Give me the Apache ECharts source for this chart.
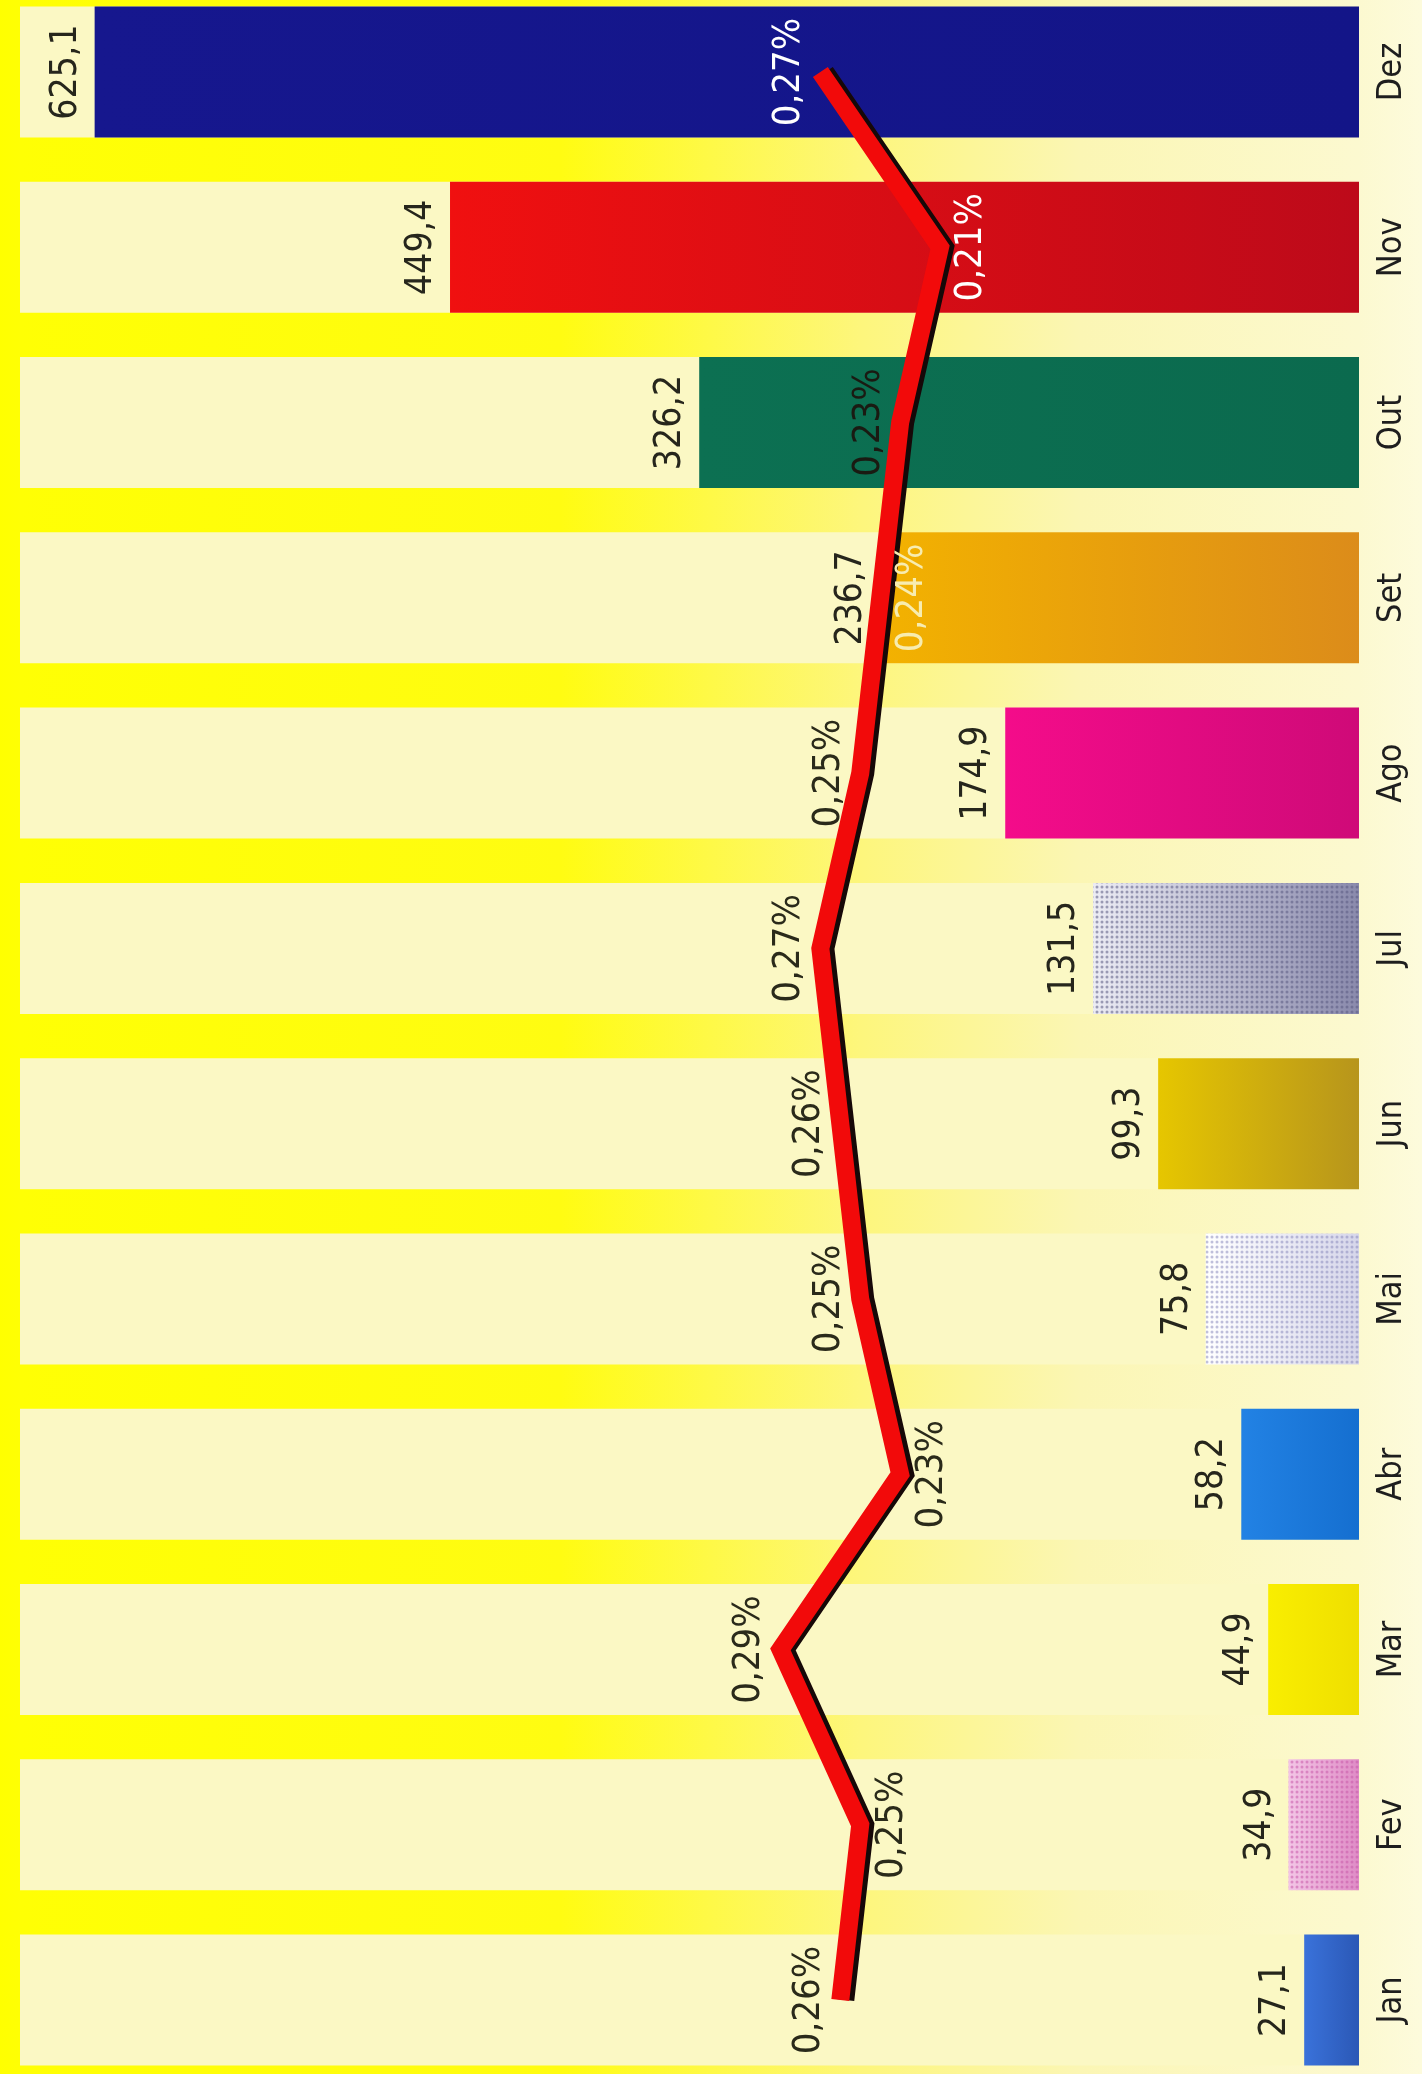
<!DOCTYPE html>
<html>
<head>
<meta charset="utf-8">
<script src="https://cdn.jsdelivr.net/npm/echarts@6/dist/echarts.min.js"></script>
<style>
  html, body { margin: 0; padding: 0; }
  #chart {
    width: 1422px; height: 2074px;
    background: linear-gradient(to right, #ffff00 0px, #ffff04 20px, #fffc12 560px, #fdf67c 860px, #fbf6b4 1080px, #fcf9d0 1359px, #fdfbdc 1422px);
  }
</style>
</head>
<body>
<div id="chart"></div>
<script>
// ---- data ----
const months = ['Jan', 'Fev', 'Mar', 'Abr', 'Mai', 'Jun', 'Jul', 'Ago', 'Set', 'Out', 'Nov', 'Dez'];
const values = [27.1, 34.9, 44.9, 58.2, 75.8, 99.3, 131.5, 174.9, 236.7, 326.2, 449.4, 625.1];
const percents = [0.26, 0.25, 0.29, 0.23, 0.25, 0.26, 0.27, 0.25, 0.24, 0.23, 0.21, 0.27];

// ---- styles (not data) ----
const barGradients = [
  ['#3a72da', '#2b58b6'],   // Jan
  ['#f3c6e6', '#df8cc6'],   // Fev
  ['#f9ee00', '#efdf00'],   // Mar
  ['#2282e4', '#156fd0'],   // Abr
  ['#ffffff', '#d6d6ea'],   // Mai
  ['#e6c600', '#b7951c'],   // Jun
  ['#ececf4', '#8a8aac'],   // Jul
  ['#f40c8a', '#cf0a78'],   // Ago
  ['#f3b200', '#dc8c1a'],   // Set
  ['#0c7052', '#0b6a4e'],   // Out
  ['#f01010', '#bd0a1a'],   // Nov
  ['#16178e', '#131588']    // Dez
];
const dotted = { 1: 'rgba(200,90,170,0.55)', 4: 'rgba(140,140,190,0.55)', 6: 'rgba(90,90,130,0.55)' };
const pctPos = ['left', 'right', 'left', 'right', 'left', 'left', 'left', 'left', 'right', 'left', 'right', 'left'];
const pctColor = ['#2a2a1a', '#2a2a1a', '#2a2a1a', '#2a2a1a', '#2a2a1a', '#2a2a1a', '#2a2a1a', '#2a2a1a', '#f7ecb0', '#1a1a12', '#ffffff', '#ffffff'];

const FONT = '"Liberation Sans Narrow", "Arial Narrow", "Helvetica Condensed", "DejaVu Sans Condensed", "Liberation Sans", sans-serif';

function fmt(v, d) { return v.toFixed(d).replace('.', ','); }

const barData = values.map((v, i) => {
  const item = {
    value: v,
    itemStyle: {
      color: new echarts.graphic.LinearGradient(0, 0, 1, 0, [
        { offset: 0, color: barGradients[i][0] },
        { offset: 1, color: barGradients[i][1] }
      ])
    }
  };
  if (dotted[i]) {
    item.itemStyle.decal = {
      symbol: 'circle',
      symbolSize: 0.75,
      dashArrayX: [4, 1],
      dashArrayY: [4, 1],
      color: dotted[i]
    };
  }
  return item;
});

const lineData = percents.map((p, i) => ({
  value: p,
  label: {
    position: pctPos[i],
    color: pctColor[i],
    verticalAlign: pctPos[i] === 'left' ? 'bottom' : 'top'
  }
}));

const chart = echarts.init(document.getElementById('chart'), null, { renderer: 'canvas' });
const gridTop = -15.6;
const band = 175.27;
const gridLeft = 20;
const gridRight = 63;
const barMax = 662;
const pctMax = (1422 - gridLeft - gridRight) / 1995;

chart.setOption({
  backgroundColor: 'transparent',
  animation: false,
  grid: { left: gridLeft, right: gridRight, top: gridTop, height: band * 12, containLabel: false, outerBoundsMode: 'none' },
  xAxis: [
    { type: 'value', inverse: true, min: 0, max: barMax, show: false },
    { type: 'value', inverse: true, min: 0, max: pctMax, show: false }
  ],
  yAxis: {
    type: 'category',
    data: months,
    position: 'right',
    axisLine: { show: false },
    axisTick: { show: false },
    splitLine: { show: false },
    axisLabel: {
      rotate: 90,
      margin: 16,
      align: 'center',
      verticalAlign: 'top',
      fontFamily: FONT,
      fontSize: 34,
      color: '#1e1e1e'
    }
  },
  series: [
    {
      type: 'bar',
      xAxisIndex: 0,
      data: barData,
      barWidth: 131,
      showBackground: true,
      backgroundStyle: { color: '#fbf8c4' },
      label: {
        show: true,
        position: 'left',
        rotate: 90,
        align: 'center',
        verticalAlign: 'bottom',
        distance: 10,
        fontFamily: FONT,
        fontSize: 37,
        color: '#26261c',
        formatter: p => fmt(p.value, 1)
      },
      z: 2
    },
    {
      type: 'line',
      xAxisIndex: 1,
      data: lineData,
      symbol: 'circle',
      symbolSize: 1,
      itemStyle: { color: 'rgba(0,0,0,0)' },
      lineStyle: {
        color: '#f20a0a',
        width: 18,
        cap: 'butt',
        join: 'miter',
        shadowColor: '#160808',
        shadowBlur: 0,
        shadowOffsetX: 5,
        shadowOffsetY: 0
      },
      label: {
        show: true,
        rotate: 90,
        align: 'center',
        distance: 12,
        fontFamily: FONT,
        fontSize: 38,
        formatter: p => fmt(p.value, 2) + '%'
      },
      z: 5
    }
  ]
});
</script>
</body>
</html>
